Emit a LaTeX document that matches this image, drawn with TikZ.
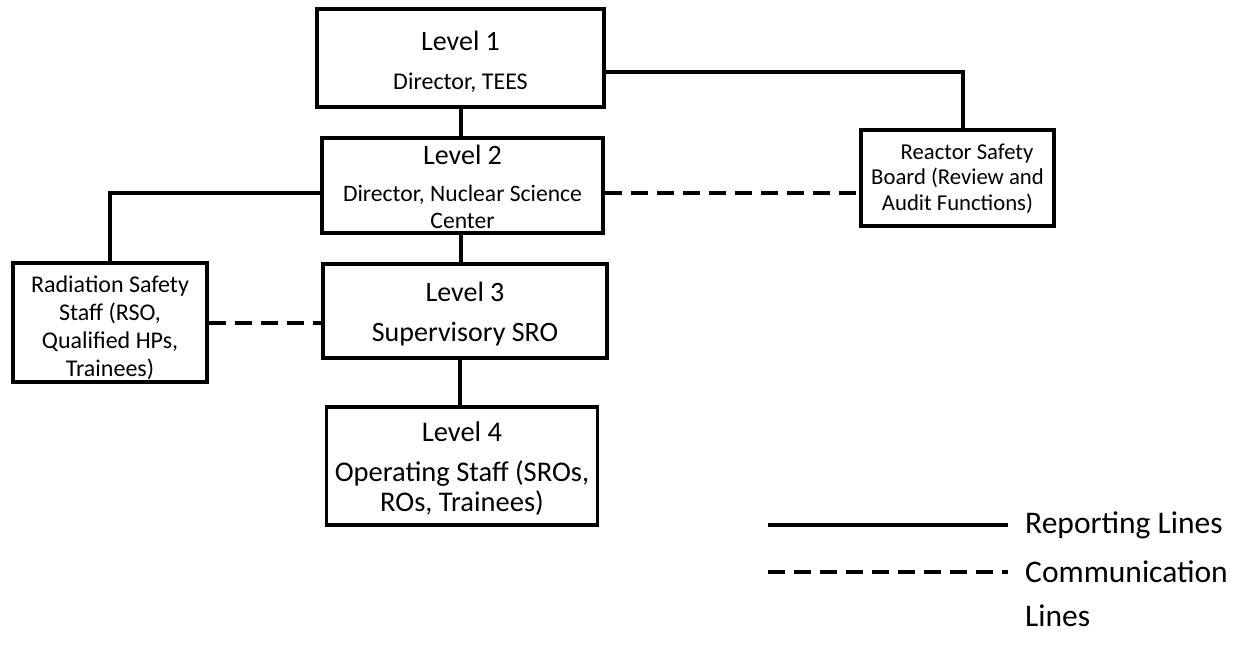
\documentclass[tikz,border=0pt]{standalone}
\usepackage{fontspec}
\setmainfont{Carlito}
\newcommand\fs[2]{\fontsize{#1}{#2}\selectfont}
\newcommand\dropby[2]{\raisebox{-#1}[\height][\depth]{#2}}
\begin{document}
\begin{tikzpicture}[x=1pt,y=-1pt,
  box/.style={draw=black,line width=3.8pt,rectangle,inner sep=0pt},
  rep/.style={line width=3.5pt},
  comm/.style={line width=3.5pt,dash pattern=on 17pt off 9pt}]
\useasboundingbox (0,0) rectangle (1240,647);
% boxes
\node[box,minimum width=287pt,minimum height=98pt] (L1) at (460.5,58)
  {\dropby{6.7pt}{\fs{28}{28}\begin{tabular}{@{}c@{}}\fs{28}{28}Level 1\\[10.7pt]\fs{24}{28}Director, TEES\end{tabular}}};
\node[box,minimum width=281pt,minimum height=95pt] (L2) at (462.5,185.5)
  {\dropby{5.4pt}{\fs{23.6}{27}\begin{tabular}{@{}c@{}}\fs{28}{27}Level 2\\[10.6pt]Director, Nuclear Science\\Center\end{tabular}}};
\node[box,minimum width=284pt,minimum height=94pt] (L3) at (465,311)
  {\dropby{4.9pt}{\fs{28}{28}\begin{tabular}{@{}c@{}}Level 3\\[13pt]Supervisory SRO\end{tabular}}};
\node[box,minimum width=271pt,minimum height=118pt] (L4) at (462,466)
  {\dropby{4.1pt}{\fs{28.5}{30}\begin{tabular}{@{}c@{}}Level 4\\[10pt]Operating Staff (SROs,\\ROs, Trainees)\end{tabular}}};
\node[box,minimum width=194pt,minimum height=119pt] (RSS) at (110,322.5)
  {\dropby{6.6pt}{\fs{24}{28}\begin{tabular}{@{}c@{}}Radiation Safety\\Staff (RSO,\\Qualified HPs,\\Trainees)\end{tabular}}};
\node[box,minimum width=193pt,minimum height=96pt] (RSB) at (957.5,178)
  {\dropby{1.7pt}{\fs{22.7}{25.5}\begin{tabular}{@{}c@{}}\hspace*{19pt}Reactor Safety\\Board (Review and\\Audit Functions)\end{tabular}}};
% reporting lines
\draw[rep] (L1.south -| 461,0) -- (L2.north -| 461,0);
\draw[rep] (L1.east |- 0,72) -| ([xshift=5.5pt]RSB.north);
\draw[rep] (L2.west |- 0,193) -| (RSS.north);
\draw[rep] (L2.south -| 461,0) -- (L3.north -| 461,0);
\draw[rep] (L3.south -| 460,0) -- (L4.north -| 460,0);
% communication lines
\draw[comm] (L2.east |- 0,193) -- (RSB.west |- 0,193);
\draw[comm] (RSS.east |- 0,323) -- (L3.west |- 0,323);
% legend
\coordinate (repA) at (768,525);
\coordinate (repB) at (1008,525);
\coordinate (comA) at (768,572);
\coordinate (comB) at (1008,572);
\draw[rep] (repA) -- (repB);
\draw[comm] (comA) -- (comB);
\node[anchor=west,inner sep=0pt,font=\fs{31.5}{36}] (repT) at (1025,525) {Reporting Lines};
\node[anchor=west,inner sep=0pt] (comT) at (1025,595.2)
  {\fs{31.5}{44}\begin{tabular}{@{}l@{}}Communication\\Lines\end{tabular}};
\end{tikzpicture}
\end{document}
